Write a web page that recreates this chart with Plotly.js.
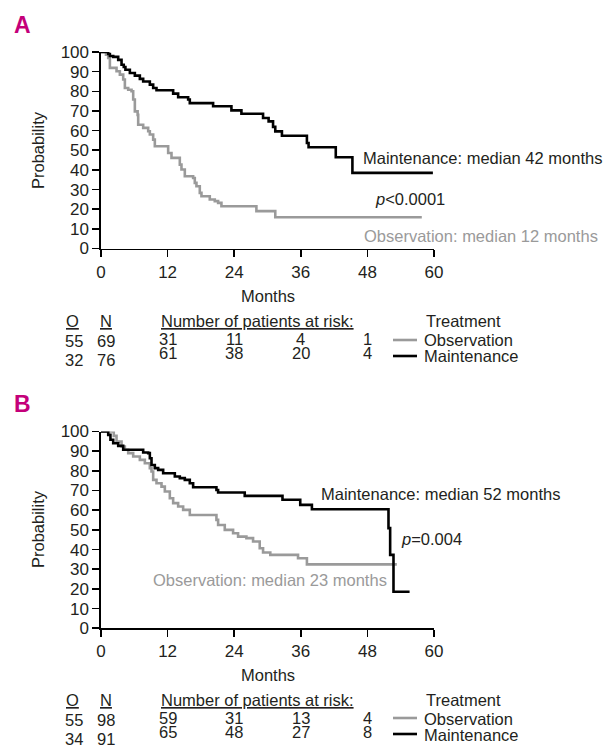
<!DOCTYPE html>
<html>
<head>
<meta charset="utf-8">
<script src="https://cdn.plot.ly/plotly-3.0.1.min.js"></script>
<style>html,body{margin:0;padding:0;background:#fff;}#chart{width:614px;height:749px;}</style>
</head>
<body>
<div id="chart"></div>
<script>
// ---- Data ----
var xTicks = [0, 12, 24, 36, 48, 60];
var yTicks = [0, 10, 20, 30, 40, 50, 60, 70, 80, 90, 100];

// Panel A (step curves: month, survival %)
var aMaintT = [0, 1.3, 1.6, 2.2, 3.1, 3.7, 4.1, 4.4, 5.2, 6.1, 7.0, 7.6, 8.8, 9.4, 10.0, 13.0, 13.9, 15.7, 16.0, 20.2, 23.5, 25.3, 29.2, 30.2, 31.0, 31.4, 32.6, 37.1, 37.4, 42.3, 45.3, 59.8];
var aMaintS = [100, 99, 98, 97.5, 96, 93.5, 92.4, 91, 89.3, 88, 86.3, 85, 83.4, 81.7, 80.5, 78.8, 77, 75.8, 74, 72.4, 70.3, 68.6, 66.4, 64.7, 61.9, 59.6, 57.4, 53.7, 51.5, 46.4, 38.5, 38.5];
var aObsT = [0, 0.9, 1.3, 1.6, 2.8, 3.4, 4.0, 4.3, 4.9, 5.5, 5.8, 6.1, 6.6, 6.7, 7.6, 8.5, 8.8, 9.4, 9.7, 12.1, 12.7, 14.2, 14.5, 15.1, 16.6, 16.9, 17.2, 17.8, 18.1, 19.6, 20.5, 21.1, 21.7, 28.0, 31.4, 57.8];
var aObsS = [100, 98.6, 97, 91.9, 90.2, 88.5, 86, 81.7, 80.8, 80, 75.8, 69.8, 68, 63, 61.4, 59.7, 58, 55.4, 52, 48.6, 46.1, 42.7, 40.2, 36.8, 35.9, 33.4, 31.7, 28.3, 26.6, 24.9, 24.1, 23.2, 21.5, 19, 15.9, 15.9];

// Panel B
var bMaintT = [0, 1.3, 1.7, 2.2, 3.1, 4.0, 7.6, 8.5, 8.8, 9.1, 9.7, 10.3, 11.2, 13.3, 14.2, 15.1, 16.0, 16.6, 20.8, 21.1, 25.9, 32.7, 35.9, 38.0, 51.8, 52.1, 52.7, 55.6];
var bMaintS = [100, 98.3, 95.8, 94, 92.7, 90.7, 89.3, 89, 86.4, 83, 81.4, 80.5, 78.8, 77.1, 76.3, 75.4, 73.7, 71.7, 70.3, 69, 67.3, 65.3, 62.7, 60.5, 50.9, 37.3, 18.6, 18.6];
var bObsT = [0, 2.3, 2.8, 3.7, 4.3, 4.9, 5.8, 7.0, 7.9, 8.8, 9.1, 9.4, 10.0, 10.9, 11.5, 12.4, 13.0, 13.9, 14.8, 16.0, 20.8, 21.1, 22.3, 23.8, 24.7, 26.2, 27.4, 28.6, 29.2, 30.5, 35.5, 37.1, 53.3];
var bObsS = [100, 97.8, 94.9, 92.4, 90.7, 89, 87.3, 85.6, 83.9, 81.4, 79.7, 75.4, 73.7, 72, 69.5, 66.1, 63.6, 61.9, 60.2, 57.6, 55.1, 52.5, 50, 48.3, 46.6, 45.8, 44.1, 40.7, 38.5, 37.3, 35.6, 32.5, 32.5];

// Risk tables
var riskMonths = [12, 24, 36, 48];
var aRiskObs = [31, 11, 4, 1];
var aRiskMaint = [61, 38, 20, 4];
var bRiskObs = [59, 31, 13, 4];
var bRiskMaint = [65, 48, 27, 8];
var aON = {obs: [55, 69], maint: [32, 76]};
var bON = {obs: [55, 98], maint: [34, 91]};

var seriesNames = ['Observation', 'Maintenance'];
var panelLabels = ['A', 'B'];
var medianA = ['Observation: median 12 months', 'Maintenance: median 42 months'];
var medianB = ['Observation: median 23 months', 'Maintenance: median 52 months'];
var pA = '<i>p</i><0.0001';
var pB = '<i>p</i>=0.004';

// ---- Styles ----
var W = 614, H = 749;
var FONT = 'Liberation Sans, Arial, Helvetica, sans-serif';
var FS = 16.5;
var TXT = '#231f20';
var GRAY = '#9a9a9a';
var MAG = '#c4007a';
function px(x) { return x / W; }
function py(y) { return 1 - y / H; }

var traces = [
  {x: aObsT, y: aObsS, xaxis: 'x', yaxis: 'y', mode: 'lines', line: {shape: 'hv', color: GRAY, width: 2.6}, name: seriesNames[0]},
  {x: aMaintT, y: aMaintS, xaxis: 'x', yaxis: 'y', mode: 'lines', line: {shape: 'hv', color: '#000', width: 2.6}, name: seriesNames[1]},
  {x: bObsT, y: bObsS, xaxis: 'x2', yaxis: 'y2', mode: 'lines', line: {shape: 'hv', color: GRAY, width: 2.6}, name: seriesNames[0]},
  {x: bMaintT, y: bMaintS, xaxis: 'x2', yaxis: 'y2', mode: 'lines', line: {shape: 'hv', color: '#000', width: 2.6}, name: seriesNames[1]}
];

function xAx(anchor) {
  return {domain: [px(101), px(434)], anchor: anchor, range: [0, 60], tickvals: xTicks, ticktext: xTicks.map(String),
    showline: true, linecolor: '#000', linewidth: 1.6, ticks: 'outside', ticklen: 7, tickwidth: 1.6, tickcolor: '#000',
    showgrid: false, zeroline: false, fixedrange: true, tickfont: {family: FONT, size: 17, color: TXT}};
}
function yAx(anchor, top, bottom) {
  return {domain: [py(bottom), py(top)], anchor: anchor, range: [0, 100], tickvals: yTicks, ticktext: yTicks.map(String),
    showline: true, linecolor: '#000', linewidth: 1.6, ticks: 'outside', ticklen: 7, tickwidth: 1.6, tickcolor: '#000',
    showgrid: false, zeroline: false, fixedrange: true, tickfont: {family: FONT, size: 17, color: TXT}};
}

var ann = [];
function T(text, x, y, opts) {
  opts = opts || {};
  ann.push({text: text, xref: 'paper', yref: 'paper', x: px(x), y: py(y), xanchor: opts.xa || 'left', yanchor: 'middle',
    showarrow: false, font: {family: FONT, size: opts.size || FS, color: opts.color || TXT}, textangle: opts.angle || 0});
}

function panel(off, label, med, pTxt, pPos, medPos, ON, rObs, rMaint, xref) {
  T('<b>' + label + '</b>', 12, 25 + off, {size: 23, color: MAG});
  T('Probability', 38, 150 + off, {xa: 'center', angle: -90});
  T('Months', 268, 296 + off, {xa: 'center'});
  T(med[1], medPos[1][0], medPos[1][1] + off);
  T(med[0], medPos[0][0], medPos[0][1] + off, {color: GRAY});
  T(pTxt, pPos[0], pPos[1] + off);
  // O / N table
  T('<u>O</u>', 72.5, 321 + off, {xa: 'center'});
  T('<u>N</u>', 105.5, 321 + off, {xa: 'center'});
  T(String(ON.obs[0]), 73.5, 341 + off, {xa: 'center'});
  T(String(ON.obs[1]), 106, 341 + off, {xa: 'center'});
  T(String(ON.maint[0]), 73.5, 360 + off, {xa: 'center'});
  T(String(ON.maint[1]), 106, 360 + off, {xa: 'center'});
  T('<u>Number of patients at risk:</u>', 159, 321 + off);
  for (var i = 0; i < riskMonths.length; i++) {
    ann.push({text: String(rObs[i]), xref: xref, yref: 'paper', x: riskMonths[i], y: py(339 + off), xanchor: 'center', yanchor: 'middle',
      showarrow: false, font: {family: FONT, size: FS, color: TXT}});
    ann.push({text: String(rMaint[i]), xref: xref, yref: 'paper', x: riskMonths[i], y: py(353 + off), xanchor: 'center', yanchor: 'middle',
      showarrow: false, font: {family: FONT, size: FS, color: TXT}});
  }
  T('Treatment', 424, 321 + off);
  T(seriesNames[0], 422, 340 + off);
  T(seriesNames[1], 422, 356 + off);
}

var shapes = [];
function legendLines(off) {
  shapes.push({type: 'line', xref: 'paper', yref: 'paper', x0: px(393), x1: px(417), y0: py(340 + off), y1: py(340 + off), line: {color: GRAY, width: 2.6}});
  shapes.push({type: 'line', xref: 'paper', yref: 'paper', x0: px(393), x1: px(417), y0: py(356 + off), y1: py(356 + off), line: {color: '#000', width: 2.6}});
}

panel(0, panelLabels[0], medianA, pA, [373, 199], [[362, 236], [361, 158]], aON, aRiskObs, aRiskMaint, 'x');
panel(379, panelLabels[1], medianB, pB, [399, 160], [[151, 201], [319, 115]], bON, bRiskObs, bRiskMaint, 'x2');
legendLines(0);
legendLines(378);

var layout = {
  width: W, height: H, margin: {l: 0, r: 0, t: 0, b: 0}, paper_bgcolor: '#fff', plot_bgcolor: 'rgba(0,0,0,0)',
  showlegend: false,
  xaxis: xAx('y'), yaxis: yAx('x', 52, 248.5),
  xaxis2: xAx('y2'), yaxis2: yAx('x2', 431.5, 628.3),
  annotations: ann, shapes: shapes,
  font: {family: FONT, color: TXT}
};

Plotly.newPlot('chart', traces, layout, {staticPlot: true, displayModeBar: false});
</script>
</body>
</html>
